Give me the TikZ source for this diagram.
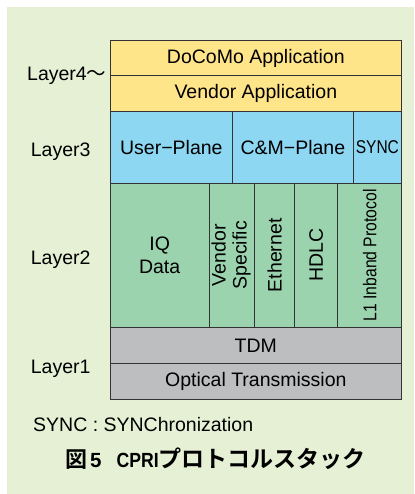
\documentclass[tikz,border=0pt]{standalone}
\usepackage{fontspec}
\usepackage{graphicx}
\setmainfont{Liberation Sans}
\newfontfamily\cjk{Noto Sans CJK JP}[BoldFont={Noto Sans CJK JP Bold}]
\usetikzlibrary{positioning}

\definecolor{bgGreen}{HTML}{E6F0D5}
\definecolor{appYellow}{HTML}{FFE58A}
\definecolor{planeBlue}{HTML}{8DD7F3}
\definecolor{linkGreen}{HTML}{9BD3AE}
\definecolor{phyGray}{HTML}{BDBEC0}
\definecolor{edgeGray}{HTML}{333333}

\begin{document}
\begin{tikzpicture}[x=1pt, y=-1pt,
  cell/.style={draw=edgeGray, line width=0.9pt, inner sep=0pt, outer sep=0pt,
    anchor=north west, align=center, font=\fontsize{19.5}{23}\selectfont},
  layer/.style={anchor=base west, inner sep=0pt, font=\fontsize{19.5}{23}\selectfont}]

% Background
\fill[white] (0,0) rectangle (414,494);
\fill[bgGreen] (7,7) rectangle (414,494);

% Layer4: applications
\node[cell, fill=appYellow, minimum width=291.7, minimum height=35] (docomo) at (110,40.7) {DoCoMo Application};
\node[cell, fill=appYellow, minimum width=291.7, minimum height=35.3] (vendapp) at (docomo.south west) {Vendor Application};

% Layer3: planes
\node[cell, fill=planeBlue, minimum width=122.7, minimum height=72.3] (uplane) at (vendapp.south west) {User−Plane};
\node[cell, fill=planeBlue, minimum width=120.3, minimum height=72.3] (cmplane) at (uplane.north east) {C\&M−Plane};
\node[cell, fill=planeBlue, minimum width=48.7, minimum height=72.3] (sync) at (cmplane.north east) {\fontsize{18.5}{20}\selectfont\scalebox{0.84}[1]{SYNC}};

% Layer2: data link
\node[cell, fill=linkGreen, minimum width=99.3, minimum height=144] (iq) at (uplane.south west) {IQ\\Data};
\node[cell, fill=linkGreen, minimum width=45.4, minimum height=144] (vendspec) at (iq.north east)
  {\rotatebox{90}{\fontsize{19.5}{21}\selectfont\begin{tabular}{@{}c@{}}Vendor\\Specific\end{tabular}}};
\node[cell, fill=linkGreen, minimum width=40, minimum height=144] (ether) at (vendspec.north east) {\rotatebox{90}{Ethernet}};
\node[cell, fill=linkGreen, minimum width=43, minimum height=144] (hdlc) at (ether.north east) {\rotatebox{90}{HDLC}};
\node[cell, fill=linkGreen, minimum width=64, minimum height=144] (inband) at (hdlc.north east)
  {\rotatebox{90}{\fontsize{18.5}{20}\selectfont\scalebox{0.85}[1]{L1 Inband Protocol}}};

% Layer1: physical
\node[cell, fill=phyGray, minimum width=291.7, minimum height=36] (tdm) at (iq.south west) {TDM};
\node[cell, fill=phyGray, minimum width=291.7, minimum height=36] (optical) at (tdm.south west) {Optical Transmission};

% Layer names
\node[layer] (l4) at (27,81) {Layer4{\cjk ～}};
\node[layer] (l3) at (30.7,156.7) {Layer3};
\node[layer] (l2) at (30.7,264) {Layer2};
\node[layer] (l1) at (30.7,373.3) {Layer1};

% Note and caption
\node[layer] (note) at (33,431.7) {SYNC : SYNChronization};
\node[layer, font=\fontsize{20.5}{24}\selectfont\bfseries] (caption) at (65,467)
  {{\cjk\fontsize{22}{24}\selectfont 図}\hspace{3pt}5\hspace{15pt}\scalebox{0.86}[1]{CPRI}%
   {\cjk\fontsize{23}{24}\selectfont プロトコルスタック}};

\end{tikzpicture}
\end{document}
